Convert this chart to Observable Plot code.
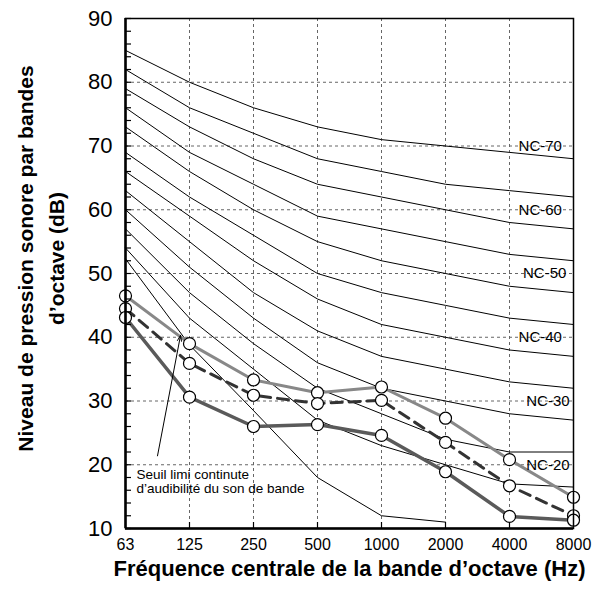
<!DOCTYPE html>
<html><head><meta charset="utf-8">
<script src="https://cdn.jsdelivr.net/npm/d3@7"></script>
<script src="https://cdn.jsdelivr.net/npm/@observablehq/plot@0.6"></script>
<style>body{margin:0;background:#fff}</style>
</head><body><div id="chart"></div>
<script>
// Octave-band centre frequencies (x categories)
const freqLabels = ["63","125","250","500","1000","2000","4000","8000"];
const yTicks = [10,20,30,40,50,60,70,80,90];

// NC curves (dB) at 63 ... 8000 Hz
const ncNames = ["NC-70","NC-65","NC-60","NC-55","NC-50","NC-45","NC-40","NC-35","NC-30","NC-25","NC-20"];
const nc70 = [85,80,76,73,71,70,69,68];
const nc65 = [82,76,72,68,66,64,63,62];
const nc60 = [79,73,68,64,62,60,58,57];
const nc55 = [76,69,64,59,57,55,53,52];
const nc50 = [73,66,60,55,52,50,48,47];
const nc45 = [69,62,56,50,47,45,43,42];
const nc40 = [66,59,52,46,42,40,38,37];
const nc35 = [63,55,47,41,37,35,33,32];
const nc30 = [60,51,43,36,32,30,28,27];
const nc25 = [57,47,39,32,28,24,22,22];
const nc20 = [54,43,35,27,23,20,17,16.5];

// Threshold of audibility (63 ... 2000 Hz)
const threshold = [52.3,38.8,28.5,18,12,11];

// Measured spectra
const seriesA = [46.5,39.0,33.3,31.3,32.2,27.3,20.8,14.9]; // light grey solid
const seriesB = [44.5,35.9,30.9,29.6,30.1,23.5,16.7,12.0]; // dashed
const seriesC = [43.1,30.6,26.0,26.3,24.6,18.9,11.9,11.3]; // dark grey solid

// Curve labels
const ncLabelText = ["NC-70","NC-60","NC-50","NC-40","NC-30","NC-20"];
const ncLabelY = [70,60,50,40,30,20];
const ncLabelX = [6.48,6.48,6.55,6.48,6.6,6.6];

// Annotation
const noteLines = ["Seuil limi continute","d’audibilité du son de bande"];
const noteX = 0.17, noteY = [18.4,16.2];
const arrowFrom = [0.5,21.4], arrowTo = [0.86,40.3];

const ncCurves = [nc70,nc65,nc60,nc55,nc50,nc45,nc40,nc35,nc30,nc25,nc20];
const ncData = ncCurves.flatMap((vals,k) => vals.map((v,i) => ({name: ncNames[k], i, v})));
const thrData = threshold.map((v,i) => ({i, v}));
const toPts = (arr, s) => arr.map((v,i) => ({s, i, v}));
const ptsA = toPts(seriesA,"A"), ptsB = toPts(seriesB,"B"), ptsC = toPts(seriesC,"C");
const idx = d3.range(freqLabels.length);
const font = "'Liberation Sans', Arial, Helvetica, sans-serif";

const chart = Plot.plot({
  width: 593, height: 590,
  marginLeft: 125, marginRight: 20, marginTop: 18, marginBottom: 62,
  style: {fontFamily: font, background: "#fff", color: "#000", overflow: "visible"},
  x: {type: "linear", domain: [0, freqLabels.length - 1]},
  y: {domain: [yTicks[0], yTicks[yTicks.length-1]]},
  marks: [
    Plot.gridY(yTicks.slice(1,-1), {stroke: "#666", strokeOpacity: 1, strokeWidth: 1, strokeDasharray: "3,3"}),
    Plot.gridX(idx.slice(1,-1), {stroke: "#666", strokeOpacity: 1, strokeWidth: 1, strokeDasharray: "3,3"}),
    Plot.line(ncData, {x: "i", y: "v", z: "name", stroke: "#000", strokeWidth: 1}),
    Plot.line(thrData, {x: "i", y: "v", stroke: "#000", strokeWidth: 1}),
    Plot.line(ptsA, {x: "i", y: "v", stroke: "#888", strokeWidth: 3}),
    Plot.line(ptsC, {x: "i", y: "v", stroke: "#5a5a5a", strokeWidth: 3.5}),
    Plot.line(ptsB, {x: "i", y: "v", stroke: "#333", strokeWidth: 3, strokeDasharray: "11,7"}),
    Plot.dot([...ptsA, ...ptsB, ...ptsC], {x: "i", y: "v", r: 6, fill: "#fff", stroke: "#000", strokeWidth: 1.2}),
    Plot.text(ncLabelText, {x: (d,i) => ncLabelX[i], y: (d,i) => ncLabelY[i], text: d => d, fontSize: 15, fill: "#000"}),
    Plot.arrow([0], {x1: arrowFrom[0], y1: arrowFrom[1], x2: arrowTo[0], y2: arrowTo[1], stroke: "#000", strokeWidth: 1, headLength: 9, headAngle: 40}),
    Plot.text(noteLines, {x: noteX, y: (d,i) => noteY[i], text: d => d, textAnchor: "start", fontSize: 13.5, fill: "#000"}),
    Plot.frame({stroke: "#000", strokeWidth: 1.5}),
    Plot.ruleX([0], {stroke: "#000", strokeWidth: 2.5}),
    Plot.ruleY([yTicks[0]], {stroke: "#000", strokeWidth: 2.5}),
    Plot.axisY(d3.range(10, 91, 2), {tickSize: -6, tickFormat: () => "", label: null, strokeWidth: 1.2}),
    Plot.axisY(yTicks, {tickSize: 0, tickPadding: 13, fontSize: 22, label: null}),
    Plot.axisX(idx.slice(1,-1), {tickSize: -6, tickFormat: () => "", label: null, strokeWidth: 1.2}),
    Plot.axisX(idx, {tickSize: 0, tickPadding: 10, fontSize: 16, tickFormat: i => freqLabels[i], label: null}),
    Plot.text(["Fréquence centrale de la bande d’octave (Hz)"], {frameAnchor: "bottom", dy: 47, text: d => d, textAnchor: "middle", fontSize: 22, fontWeight: "bold", fill: "#000"}),
    Plot.text(["Niveau de pression sonore par bandes"], {frameAnchor: "left", dx: -99, dy: -15, rotate: -90, textAnchor: "middle", text: d => d, fontSize: 21, fontWeight: "bold", fill: "#000"}),
    Plot.text(["d’octave (dB)"], {frameAnchor: "left", dx: -68, dy: -15, rotate: -90, textAnchor: "middle", text: d => d, fontSize: 21, fontWeight: "bold", fill: "#000"})
  ]
});
document.getElementById("chart").appendChild(chart);
</script>
</body></html>
